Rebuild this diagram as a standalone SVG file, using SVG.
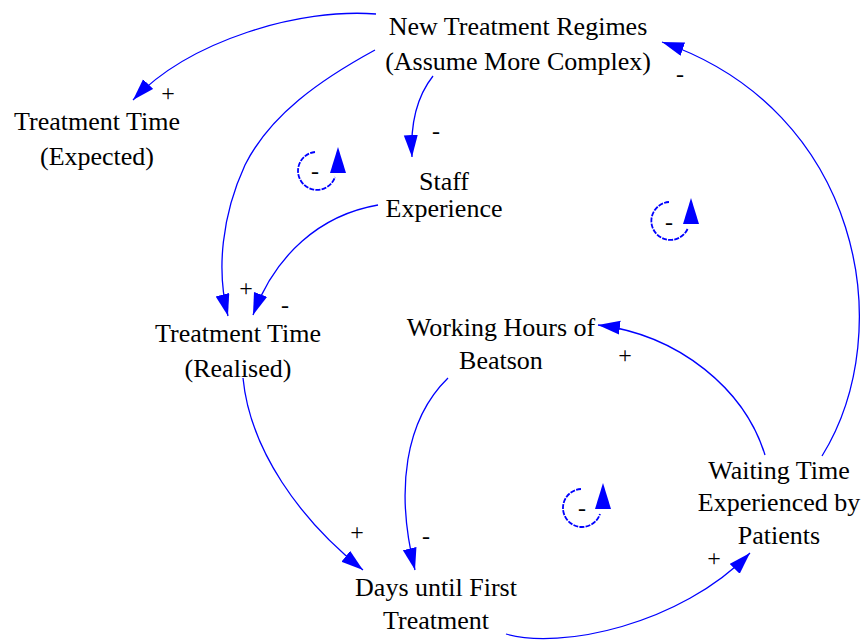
<svg xmlns="http://www.w3.org/2000/svg" width="865" height="642" viewBox="0 0 865 642">
<style>
.t{font-family:'Liberation Serif','DejaVu Serif','Times New Roman',serif;font-size:26px;fill:#000;text-anchor:middle}
.s{font-family:'Liberation Serif','DejaVu Serif','Times New Roman',serif;font-size:24px;fill:#000;text-anchor:middle}
.c{fill:none;stroke:#0000ff;stroke-width:1.3}
.l{fill:none;stroke:#0000ff;stroke-width:1.8;stroke-dasharray:5 1.2}
.a{fill:#0000ff}
</style>
<defs>
<marker id="ah" markerUnits="userSpaceOnUse" markerWidth="24" markerHeight="16" refX="22" refY="7" orient="auto">
<path d="M0,0 L22,7 L0,14 Z" fill="#0000ff"/>
</marker>
</defs>
<rect width="865" height="642" fill="#fff"/>
<g id="connectors">
<path class="c" d="M376,14 C300,8 190,40 133,100" marker-end="url(#ah)"/>
<path class="c" d="M375,50 C320,80 270,115 245,165 C222,215 216,270 228,316" marker-end="url(#ah)"/>
<path class="c" d="M433,76 C418,95 410,120 412,157" marker-end="url(#ah)"/>
<path class="c" d="M378,205 C320,215 275,255 253,315" marker-end="url(#ah)"/>
<path class="c" d="M243,378 C250,450 300,520 363,570" marker-end="url(#ah)"/>
<path class="c" d="M448,378 C405,420 395,490 415,570" marker-end="url(#ah)"/>
<path class="c" d="M506,634 C560,650 680,625 750,553" marker-end="url(#ah)"/>
<path class="c" d="M765,455 C745,390 680,335 598,325" marker-end="url(#ah)"/>
<path class="c" d="M822,456 C900,330 860,110 662,42" marker-end="url(#ah)"/>
<text class="s" x="168" y="101">+</text>
<text class="s" x="680" y="82">-</text>
<text class="s" x="436" y="139">-</text>
<text class="s" x="246" y="296">+</text>
<text class="s" x="285" y="313">-</text>
<text class="s" x="357" y="540">+</text>
<text class="s" x="426" y="544">-</text>
<text class="s" x="714" y="566">+</text>
<text class="s" x="625" y="363">+</text>
</g>
<g id="loop1">
<path class="l" d="M315,152 A19,19 0 1 0 335,177"/>
<path class="a" d="M338,147 L330,173 L346,173 Z"/>
<text class="s" x="315" y="179">-</text>
</g>
<g id="loop2">
<path class="l" d="M669,202 A19,19 0 1 0 688,228"/>
<path class="a" d="M691,198 L683,224 L699,224 Z"/>
<text class="s" x="669" y="230">-</text>
</g>
<g id="loop3">
<path class="l" d="M581,489 A19,19 0 1 0 600,514"/>
<path class="a" d="M603,483 L595,509 L611,509 Z"/>
<text class="s" x="582" y="516">-</text>
</g>
<g id="new-treatment-regimes">
<text class="t" x="518" y="35">New Treatment Regimes</text>
<text class="t" x="518" y="70">(Assume More Complex)</text>
</g>
<g id="treatment-time-expected">
<text class="t" x="97" y="130">Treatment Time</text>
<text class="t" x="97" y="165">(Expected)</text>
</g>
<g id="staff-experience">
<text class="t" x="444" y="190">Staff</text>
<text class="t" x="444" y="217">Experience</text>
</g>
<g id="treatment-time-realised">
<text class="t" x="238" y="342">Treatment Time</text>
<text class="t" x="238" y="377">(Realised)</text>
</g>
<g id="working-hours">
<text class="t" x="501" y="336">Working Hours of</text>
<text class="t" x="501" y="369">Beatson</text>
</g>
<g id="waiting-time">
<text class="t" x="779" y="479">Waiting Time</text>
<text class="t" x="779" y="511">Experienced by</text>
<text class="t" x="779" y="544">Patients</text>
</g>
<g id="days-until-first">
<text class="t" x="436" y="596">Days until First</text>
<text class="t" x="436" y="629">Treatment</text>
</g>
</svg>
